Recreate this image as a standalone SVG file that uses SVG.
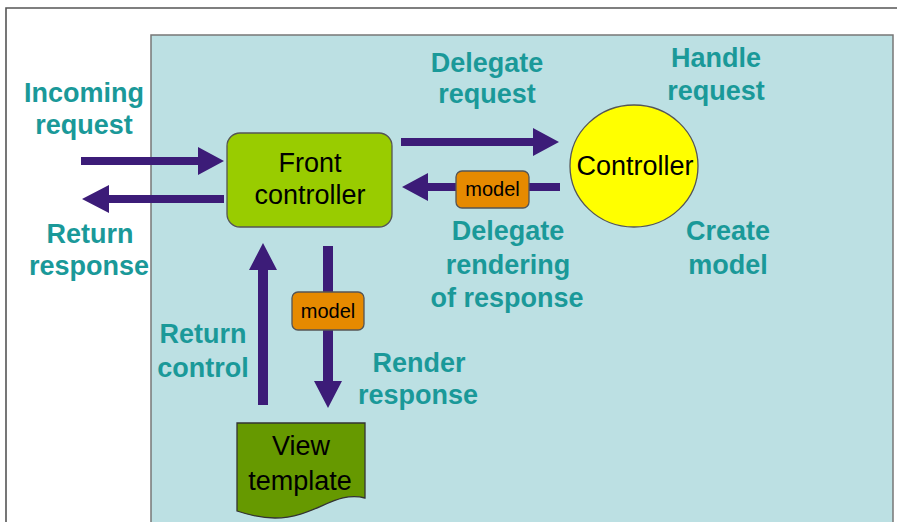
<svg xmlns="http://www.w3.org/2000/svg" width="897" height="522" viewBox="0 0 897 522">
<style>
.lbl{font-family:"Liberation Sans",Arial,sans-serif;font-weight:bold;font-size:27px;fill:#1a9999;text-anchor:middle}
.txt{font-family:"Liberation Sans",Arial,sans-serif;font-size:27px;fill:#000;text-anchor:middle}
.mtxt{font-family:"Liberation Sans",Arial,sans-serif;font-size:20px;fill:#000;text-anchor:middle}
.arrow{fill:#3c1c78}
.model{fill:#e68a00;stroke:#555;stroke-width:1.3}
</style>
<rect x="0" y="0" width="897" height="522" fill="#ffffff"/>
<path d="M6,522 V8 H897" fill="none" stroke="#555" stroke-width="1.6"/>
<rect x="151" y="35" width="742" height="500" fill="#bce0e3" stroke="#777" stroke-width="1.5"/>

<g id="connectors">
<polygon class="arrow" points="81,157 198,157 198,147 224,161 198,175 198,165 81,165"/>
<polygon class="arrow" points="224,195 109,195 109,185 82,199 109,213 109,203 224,203"/>
<polygon class="arrow" points="401,138 533,138 533,128 559,142 533,156 533,146 401,146"/>
<polygon class="arrow" points="560,183 428,183 428,173 402,187 428,201 428,191 560,191"/>
<polygon class="arrow" points="258,405 258,270 249,270 263,243 277,270 268,270 268,405"/>
<polygon class="arrow" points="323,246 333,246 333,381 342,381 328,408 314,381 323,381"/>
</g>

<g id="front-controller">
<rect x="227" y="133" width="165" height="94" rx="13" fill="#99cc00" stroke="#555" stroke-width="1.3"/>
<text class="txt" x="310" y="172">Front</text>
<text class="txt" x="310" y="204">controller</text>
</g>

<g id="controller">
<ellipse cx="634" cy="166" rx="64" ry="61" fill="#ffff00" stroke="#555" stroke-width="1.3"/>
<text class="txt" x="635" y="175">Controller</text>
</g>

<g id="model-right">
<rect class="model" x="456" y="171" width="73" height="37" rx="6"/>
<text class="mtxt" x="492.5" y="196">model</text>
</g>

<g id="model-lower">
<rect class="model" x="292" y="292" width="72" height="38" rx="6"/>
<text class="mtxt" x="328" y="318">model</text>
</g>

<g id="view-template">
<path d="M237,423 H365 V498 C335,490 315,518 275,518 C258,518 246,514 237,511 Z" fill="#669900" stroke="#333" stroke-width="1.3"/>
<text class="txt" x="301" y="455">View</text>
<text class="txt" x="300" y="490">template</text>
</g>

<g id="labels">
<text class="lbl" x="84" y="102">Incoming</text>
<text class="lbl" x="84" y="134">request</text>
<text class="lbl" x="90" y="243">Return</text>
<text class="lbl" x="89" y="275">response</text>
<text class="lbl" x="487" y="72">Delegate</text>
<text class="lbl" x="487" y="103">request</text>
<text class="lbl" x="716" y="67">Handle</text>
<text class="lbl" x="716" y="100">request</text>
<text class="lbl" x="508" y="240">Delegate</text>
<text class="lbl" x="508" y="274">rendering</text>
<text class="lbl" x="507" y="307">of response</text>
<text class="lbl" x="728" y="240">Create</text>
<text class="lbl" x="728" y="274">model</text>
<text class="lbl" x="203" y="343">Return</text>
<text class="lbl" x="203" y="377">control</text>
<text class="lbl" x="419" y="372">Render</text>
<text class="lbl" x="418" y="404">response</text>
</g>
</svg>
